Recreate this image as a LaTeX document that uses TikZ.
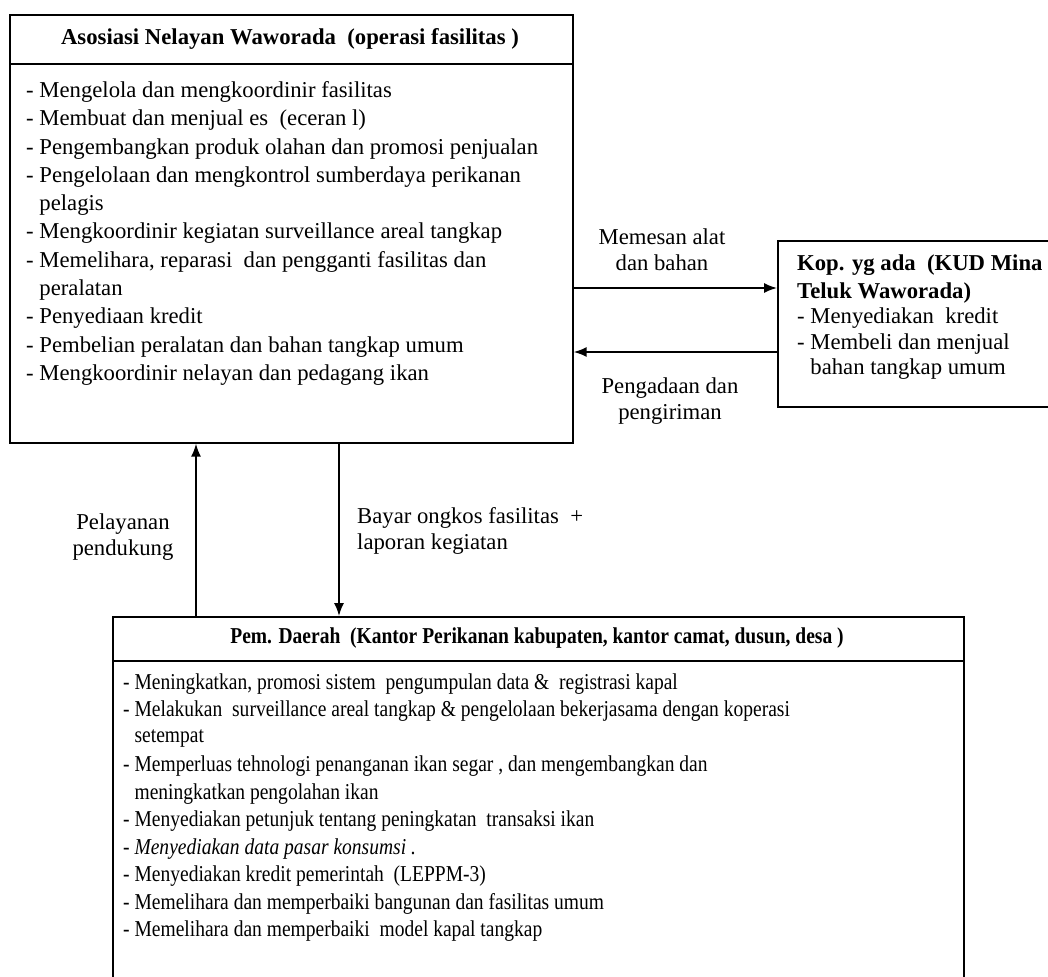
\documentclass[tikz,border=0pt]{standalone}
\usepackage{fontspec}
\setmainfont{Liberation Serif}
\newfontfamily\narrowfont[FakeStretch=0.86]{Liberation Serif}
\usetikzlibrary{arrows.meta}
\tikzset{
  box/.style={draw, line width=1.7pt, inner sep=0pt},
  sep/.style={line width=1.4pt},
  item/.style={anchor=west, inner sep=0pt, font=\fontsize{22.7}{28}\selectfont},
  nitem/.style={anchor=west, inner sep=0pt, font=\narrowfont\fontsize{22.7}{28}\selectfont},
  head/.style={inner sep=0pt, font=\bfseries\fontsize{22.7}{28}\selectfont},
  lbl/.style={inner sep=0pt, align=center, font=\fontsize{22.7}{26}\selectfont},
  arr/.style={line width=1.6pt, -{Latex[length=13pt,width=10pt]}},
}
\begin{document}
\begin{tikzpicture}[x=1pt,y=-1pt]
\clip (0,0) rectangle (1048,976);
\fill[white] (0,0) rectangle (1048,976);
% asosiasi nelayan
\node[box, anchor=north west, minimum width=563pt, minimum height=428pt] (asosiasi) at (9,14) {};
\draw[sep] ([yshift=-50pt]asosiasi.north west) -- ([yshift=-50pt]asosiasi.north east);
\node[head] (asosiasiT) at (290,39) {Asosiasi Nelayan Waworada\ \ (operasi fasilitas )};
\foreach \t [count=\i] in {{- Mengelola dan mengkoordinir fasilitas},
  {- Membuat dan menjual es\ \ (eceran l)},
  {- Pengembangkan produk olahan dan promosi penjualan},
  {- Pengelolaan dan mengkontrol sumberdaya perikanan},
  {\phantom{- }pelagis},
  {- Mengkoordinir kegiatan surveillance areal tangkap},
  {- Memelihara, reparasi\ \ dan pengganti fasilitas dan},
  {\phantom{- }peralatan},
  {- Penyediaan kredit},
  {- Pembelian peralatan dan bahan tangkap umum},
  {- Mengkoordinir nelayan dan pedagang ikan}}
  \node[item] (asosiasi\i) at (26,{92+28.3*(\i-1)}) {\t};
% koperasi
\node[box, anchor=north west, minimum width=300pt, minimum height=166pt] (kop) at (777,240) {};
\node[head, anchor=west, align=left] (kopT) at (797,279) {Kop. yg ada\ \ (KUD Mina\\Teluk Waworada)};
\node[item] (kop1) at (797,318) {- Menyediakan\ \ kredit};
\node[item] (kop2) at (797,344) {- Membeli dan menjual};
\node[item] (kop3) at (797,369) {\phantom{- }bahan tangkap umum};
% pemerintah daerah
\node[box, anchor=north west, minimum width=851pt, minimum height=420pt] (pemda) at (112,616) {};
\draw[sep] ([yshift=-45pt]pemda.north west) -- ([yshift=-45pt]pemda.north east);
\node[head, font=\narrowfont\bfseries\fontsize{22.7}{28}\selectfont] (pemdaT) at (537,638) {Pem. Daerah\ \ (Kantor Perikanan kabupaten, kantor camat, dusun, desa )};
\foreach \t [count=\i] in {{- Meningkatkan, promosi sistem\ \ pengumpulan data \&\ \ registrasi kapal},
  {- Melakukan\ \ surveillance areal tangkap \& pengelolaan bekerjasama dengan koperasi},
  {\phantom{- }setempat},
  {- Memperluas tehnologi penanganan ikan segar , dan mengembangkan dan},
  {\phantom{- }meningkatkan pengolahan ikan},
  {- Menyediakan petunjuk tentang peningkatan\ \ transaksi ikan},
  {\itshape - Menyediakan data pasar konsumsi .},
  {- Menyediakan kredit pemerintah\ \ (LEPPM-3)},
  {- Memelihara dan memperbaiki bangunan dan fasilitas umum},
  {- Memelihara dan memperbaiki\ \ model kapal tangkap}}
  \node[nitem] (pemda\i) at (123,{684+27.5*(\i-1)}) {\t};
% connectors
\coordinate (pesanY) at (0,288);
\coordinate (adaY) at (0,352);
\coordinate (layanX) at (196,0);
\coordinate (bayarX) at (339,0);
\draw[arr] (asosiasi.east |- pesanY) -- (kop.west |- pesanY);
\draw[arr] (kop.west |- adaY) -- (asosiasi.east |- adaY);
\draw[arr] (pemda.north -| layanX) -- (asosiasi.south -| layanX);
\draw[arr] (asosiasi.south -| bayarX) -- (pemda.north -| bayarX);
\node[lbl] (pesan) at (662,250) {Memesan alat\\dan bahan};
\node[lbl] (ada) at (670,401) {Pengadaan dan\\pengiriman};
\node[lbl] (layan) at (123,537) {Pelayanan\\pendukung};
\node[lbl, align=left, anchor=west] (bayar) at (357,531) {Bayar ongkos fasilitas\ \ +\\laporan kegiatan};
\end{tikzpicture}
\end{document}
